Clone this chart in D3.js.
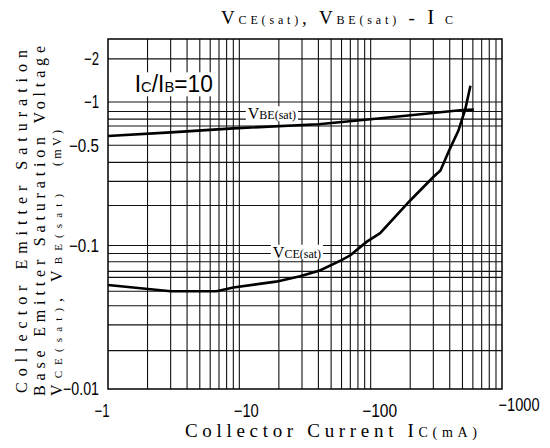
<!DOCTYPE html>
<html>
<head>
<meta charset="utf-8">
<script src="https://cdn.jsdelivr.net/npm/d3@7"></script>
<style>
  body { margin: 0; background: #fff; }
  svg { display: block; }
  .tick-label { font-family: "Liberation Sans Narrow", "Liberation Sans", sans-serif; font-size: 18px; fill: #000; }
  .serif { font-family: "Liberation Serif", "DejaVu Serif", serif; fill: #000; }
</style>
</head>
<body>
<div id="chart"></div>
<script>
// Collector current |Ic| in mA and saturation voltages |V| in V
const vbeCurrent = [1, 3, 9, 40, 125, 500, 610];
const vbeVolt    = [0.58, 0.615, 0.655, 0.70, 0.775, 0.88, 0.885];

const vceCurrent = [1, 3, 6.7, 9, 19, 29, 41, 60, 70, 93, 118, 200, 300, 340, 400, 465, 525, 575];
const vceVolt    = [0.053, 0.048, 0.048, 0.051, 0.056, 0.061, 0.067, 0.079, 0.0855, 0.106, 0.122, 0.206, 0.30, 0.333, 0.47, 0.63, 0.89, 1.3];

// grid lines, as drawn on the sheet
const xGridValues = [2, 3, 4, 5, 6, 7, 8, 9, 10, 20, 30, 40, 50, 60, 70, 80, 90, 100,
                     200, 300, 400, 500, 600, 700, 800, 900];
const yGridValues = [2, 1, 0.86, 0.76, 0.68, 0.5, 0.38, 0.28, 0.19, 0.1,
                     0.088, 0.077, 0.066, 0.06, 0.048, 0.038, 0.028, 0.0185];

const xTickValues = [1, 10, 100, 1000];
const xTickLabels = ["\u22121", "\u221210", "\u2212100", "\u22121000"];
const yTickValues = [2, 1, 0.5, 0.1, 0.01];
const yTickLabels = ["\u22122", "\u22121", "\u22120.5", "\u22120.1", "\u22120.01"];

const W = 550, H = 448;
const margin = { top: 39, right: 48, bottom: 59, left: 108 };

const svg = d3.select("#chart").append("svg")
    .attr("width", W)
    .attr("height", H);

const x = d3.scaleLog()
    .domain([1, 1000])
    .range([margin.left, W - margin.right]);

const y = d3.scaleLog()
    .domain([0.01, 2.75])
    .range([H - margin.bottom, margin.top]);

const grid = svg.append("g");

grid.selectAll(".vgrid")
  .data(xGridValues)
  .enter().append("line")
    .attr("x1", d => x(d)).attr("x2", d => x(d))
    .attr("y1", y.range()[1]).attr("y2", y.range()[0])
    .attr("stroke", "#111")
    .attr("stroke-width", 1.1);

grid.selectAll(".hgrid")
  .data(yGridValues)
  .enter().append("line")
    .attr("x1", x.range()[0]).attr("x2", x.range()[1])
    .attr("y1", d => y(d)).attr("y2", d => y(d))
    .attr("stroke", "#111")
    .attr("stroke-width", 1.1);

// frame
svg.append("rect")
    .attr("x", x.range()[0])
    .attr("y", y.range()[1])
    .attr("width", x.range()[1] - x.range()[0])
    .attr("height", y.range()[0] - y.range()[1])
    .attr("fill", "none")
    .attr("stroke", "#000")
    .attr("stroke-width", 1.5);

// condensed look: squeeze each label to the width it has on the sheet
const xNudge = [-6, 7, 9, 17];
const xLabelWidth = [15, 25, 35, 41];
const yLabelWidth = [15, 15, 30, 30, 36];

svg.selectAll(".xlab")
  .data(xTickValues)
  .enter().append("text")
    .attr("class", "tick-label")
    .attr("x", (d, i) => x(d) + xNudge[i])
    .attr("y", (d, i) => i === 3 ? 411 : 417)
    .attr("text-anchor", "middle")
    .attr("textLength", (d, i) => xLabelWidth[i])
    .attr("lengthAdjust", "spacingAndGlyphs")
    .text((d, i) => xTickLabels[i]);

svg.selectAll(".ylab")
  .data(yTickValues)
  .enter().append("text")
    .attr("class", "tick-label")
    .attr("x", x.range()[0] - 9)
    .attr("y", d => y(d))
    .attr("dy", "0.35em")
    .attr("text-anchor", "end")
    .attr("textLength", (d, i) => yLabelWidth[i])
    .attr("lengthAdjust", "spacingAndGlyphs")
    .text((d, i) => yTickLabels[i]);

// labels with white boxes that cut the grid
function boxed(g) {
  const b = g.node().getBBox();
  g.insert("rect", ":first-child")
    .attr("x", b.x - 2).attr("y", b.y + 1)
    .attr("width", b.width + 4).attr("height", b.height - 2)
    .attr("fill", "#fff");
}

const ratio = svg.append("g");
const ratioText = ratio.append("text")
    .attr("class", "tick-label")
    .attr("x", x(1.6))
    .attr("y", y(1.34))
    .attr("dy", "0.37em")
    .attr("textLength", 78)
    .attr("lengthAdjust", "spacingAndGlyphs")
    .style("font-size", "23px");
ratioText.append("tspan").text("I");
ratioText.append("tspan").style("font-size", "15px").text("C");
ratioText.append("tspan").text("/I");
ratioText.append("tspan").style("font-size", "15px").text("B");
ratioText.append("tspan").text("=10");
boxed(ratio);

const vbeLab = svg.append("g");
const vbeText = vbeLab.append("text")
    .attr("class", "serif")
    .attr("x", x(11.6))
    .attr("y", y(0.83))
    .attr("dy", "0.35em")
    .style("font-size", "16px");
vbeText.append("tspan").text("V");
vbeText.append("tspan").style("font-size", "12px").text("BE(sat)");
boxed(vbeLab);

const vceLab = svg.append("g");
const vceText = vceLab.append("text")
    .attr("class", "serif")
    .attr("x", x(18))
    .attr("y", y(0.0899))
    .attr("dy", "0.35em")
    .style("font-size", "16px");
vceText.append("tspan").text("V");
vceText.append("tspan").style("font-size", "12px").text("CE(sat)");
boxed(vceLab);

// curves
const line = d3.line()
    .x(d => x(d[0]))
    .y(d => y(d[1]));

svg.append("path")
    .datum(vbeCurrent.map((c, i) => [c, vbeVolt[i]]))
    .attr("d", line)
    .attr("fill", "none")
    .attr("stroke", "#000")
    .attr("stroke-width", 2.6);

svg.append("path")
    .datum(vceCurrent.map((c, i) => [c, vceVolt[i]]))
    .attr("d", line)
    .attr("fill", "none")
    .attr("stroke", "#000")
    .attr("stroke-width", 2.6);

// chart title
const title = svg.append("text")
    .attr("class", "serif")
    .attr("x", 221)
    .attr("y", 24)
    .attr("textLength", 232)
    .attr("lengthAdjust", "spacing")
    .style("font-size", "19px");
title.append("tspan").text("V");
title.append("tspan").style("font-size", "12px").text("CE(sat)");
title.append("tspan").text(", V");
title.append("tspan").style("font-size", "12px").text("BE(sat)");
title.append("tspan").text(" - ");
title.append("tspan").style("font-size", "21px").text("I");
title.append("tspan").style("font-size", "12px").text(" C");

// x axis title
const xTitle = svg.append("text")
    .attr("class", "serif")
    .attr("x", 185)
    .attr("y", 437)
    .attr("textLength", 292)
    .attr("lengthAdjust", "spacing")
    .style("font-size", "19px");
xTitle.append("tspan").text("Collector Current I");
xTitle.append("tspan").style("font-size", "14px").text("C(mA)");

// y axis title, three rotated lines
const yTitle = svg.append("g").attr("transform", "rotate(-90)");

yTitle.append("text")
    .attr("class", "serif")
    .attr("x", -393).attr("y", 27)
    .attr("textLength", 343)
    .attr("lengthAdjust", "spacing")
    .style("font-size", "16px")
    .text("Collector Emitter Saturation");

yTitle.append("text")
    .attr("class", "serif")
    .attr("x", -396).attr("y", 45)
    .attr("textLength", 350)
    .attr("lengthAdjust", "spacing")
    .style("font-size", "16px")
    .text("Base Emitter Saturation Voltage");

const yt3 = yTitle.append("text")
    .attr("class", "serif")
    .attr("x", -396).attr("y", 62)
    .attr("textLength", 202)
    .attr("lengthAdjust", "spacing")
    .style("font-size", "16px");
yt3.append("tspan").text("V");
yt3.append("tspan").style("font-size", "11px").text("CE(sat)");
yt3.append("tspan").text(", V");
yt3.append("tspan").style("font-size", "11px").text("BE(sat)");

yTitle.append("text")
    .attr("class", "serif")
    .attr("x", -166).attr("y", 61)
    .attr("textLength", 36)
    .attr("lengthAdjust", "spacing")
    .style("font-size", "12px")
    .text("(mV)");
</script>
</body>
</html>
